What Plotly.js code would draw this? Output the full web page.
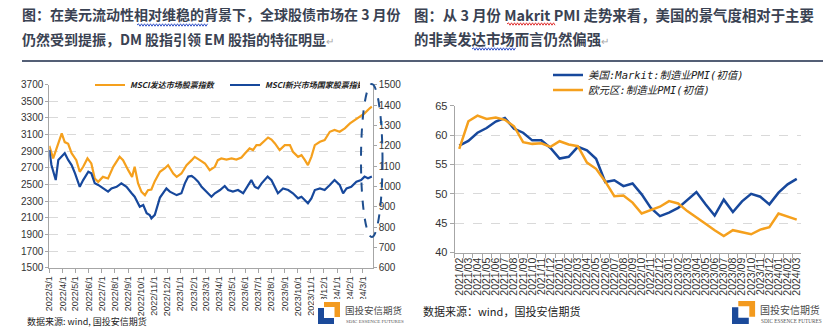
<!DOCTYPE html>
<html>
<head>
<meta charset="utf-8">
<script src="https://cdn.plot.ly/plotly-3.0.1.min.js"></script>
<style>
html,body{margin:0;padding:0;background:#fff;}
#chart{width:823px;height:330px;}
</style>
</head>
<body>
<div id="chart"></div>
<script>
// ---------------- DATA ----------------
// Left chart: MSCI developed markets (left axis) and MSCI emerging markets (right axis)
var dmDates = ["2022-03-01","2022-03-10","2022-03-30","2022-04-06","2022-04-14","2022-04-22","2022-05-03","2022-05-11","2022-05-19","2022-05-29","2022-06-07","2022-06-15","2022-06-23","2022-07-04","2022-07-16","2022-07-28","2022-08-12","2022-08-20","2022-09-01","2022-09-10","2022-09-16","2022-09-24","2022-10-02","2022-10-10","2022-10-17","2022-10-25","2022-11-02","2022-11-14","2022-11-25","2022-12-03","2022-12-15","2022-12-23","2023-01-03","2023-01-15","2023-01-27","2023-02-03","2023-02-15","2023-02-27","2023-03-10","2023-03-22","2023-03-29","2023-04-06","2023-04-18","2023-04-30","2023-05-11","2023-05-23","2023-05-31","2023-06-11","2023-06-19","2023-06-27","2023-07-05","2023-07-16","2023-07-24","2023-08-01","2023-08-09","2023-08-20","2023-09-01","2023-09-13","2023-09-20","2023-10-02","2023-10-10","2023-10-18","2023-10-25","2023-11-02","2023-11-10","2023-11-22","2023-12-03","2023-12-15","2023-12-26","2024-01-07","2024-01-19","2024-01-31","2024-02-11","2024-02-23","2024-03-05","2024-03-17","2024-03-22"];
var dmValues = [2965,2814,3115,3010,2990,2877,2793,2653,2713,2814,2754,2573,2532,2592,2573,2713,2833,2793,2673,2592,2713,2513,2412,2372,2432,2440,2540,2653,2693,2733,2633,2592,2633,2733,2793,2833,2793,2753,2673,2713,2793,2813,2800,2813,2800,2825,2873,2934,2914,2974,2974,3034,3065,3040,2994,2914,2974,2974,2894,2833,2853,2793,2733,2833,2974,3014,3034,3134,3155,3134,3175,3235,3275,3315,3356,3416,3435];

var emDates = ["2022-03-01","2022-03-06","2022-03-16","2022-03-22","2022-04-02","2022-04-06","2022-04-14","2022-04-22","2022-04-30","2022-05-11","2022-05-19","2022-05-31","2022-06-07","2022-06-15","2022-06-23","2022-07-04","2022-07-16","2022-07-24","2022-08-05","2022-08-16","2022-08-28","2022-09-09","2022-09-16","2022-09-28","2022-10-06","2022-10-14","2022-10-21","2022-10-25","2022-11-02","2022-11-14","2022-11-21","2022-11-29","2022-12-07","2022-12-15","2022-12-23","2023-01-03","2023-01-11","2023-01-19","2023-01-27","2023-02-03","2023-02-11","2023-02-19","2023-02-27","2023-03-06","2023-03-14","2023-03-22","2023-04-03","2023-04-14","2023-04-22","2023-05-03","2023-05-15","2023-05-27","2023-06-07","2023-06-15","2023-06-23","2023-07-01","2023-07-09","2023-07-16","2023-07-23","2023-08-01","2023-08-08","2023-08-16","2023-08-28","2023-09-09","2023-09-20","2023-10-02","2023-10-10","2023-10-22","2023-10-25","2023-11-02","2023-11-10","2023-11-22","2023-12-03","2023-12-15","2023-12-26","2024-01-07","2024-01-15","2024-01-23","2024-02-03","2024-02-15","2024-02-26","2024-03-05","2024-03-13","2024-03-22"];
var emValues = [1179,1105,1031,1130,1154,1163,1130,1105,1064,998,1031,1072,1064,1015,1007,990,974,990,998,1015,998,966,949,900,908,868,859,843,860,945,966,990,974,966,957,966,1015,1048,1051,1040,1023,998,982,966,949,966,982,1002,982,974,982,966,1007,1031,998,990,1015,1031,1048,1030,1000,966,990,982,966,941,949,925,917,941,982,990,982,1007,1031,1007,966,990,998,1023,1031,1048,1040,1048];

var leftTickDates = ["2022-03-01","2022-04-01","2022-05-01","2022-06-01","2022-07-01","2022-08-01","2022-09-01","2022-10-01","2022-11-01","2022-12-01","2023-01-01","2023-02-01","2023-03-01","2023-04-01","2023-05-01","2023-06-01","2023-07-01","2023-08-01","2023-09-01","2023-10-01","2023-11-01","2023-12-01","2024-01-01","2024-02-01","2024-03-01"];
var leftTickText = ["2022/3/1","2022/4/1","2022/5/1","2022/6/1","2022/7/1","2022/8/1","2022/9/1","2022/10/1","2022/11/1","2022/12/1","2023/1/1","2023/2/1","2023/3/1","2023/4/1","2023/5/1","2023/6/1","2023/7/1","2023/8/1","2023/9/1","2023/10/1","2023/11/1","2023/12/1","2024/1/1","2024/2/1","2024/3/1"];

// Right chart: flash manufacturing PMI
var pmiMonths = ["2021/02","2021/03","2021/04","2021/05","2021/06","2021/07","2021/08","2021/09","2021/10","2021/11","2021/12","2022/01","2022/02","2022/03","2022/04","2022/05","2022/06","2022/07","2022/08","2022/09","2022/10","2022/11","2022/12","2023/01","2023/02","2023/03","2023/04","2023/05","2023/06","2023/07","2023/08","2023/09","2023/10","2023/11","2023/12","2024/01","2024/02","2024/03"];
var usPmi = [58.2,59.0,60.4,61.2,62.3,62.9,61.1,60.4,59.1,59.1,57.8,56.0,56.3,58.0,57.4,55.95,52.0,52.3,51.3,51.75,49.9,47.6,46.2,46.8,47.6,49.0,50.3,48.2,46.3,49.0,46.9,48.7,50.0,49.5,48.2,50.2,51.6,52.55];
var euPmi = [57.65,62.35,63.3,62.75,63.0,62.6,61.5,58.8,58.5,58.6,58.0,58.95,58.4,58.1,55.3,54.25,52.1,49.6,49.7,48.5,46.65,47.2,47.8,48.75,48.35,47.05,45.9,44.9,43.8,42.8,43.8,43.5,43.1,43.9,44.3,46.65,46.1,45.6];

// ---------------- STYLE / LAYOUT ----------------
var W = 823, H = 330;
function px(x){ return x / W; }
function py(y){ return 1 - y / H; }

var ORANGE = "#f5a01d", BLUE = "#17489c";
var NARROW = "Liberation Sans Narrow, Arial Narrow, Liberation Sans, Arial, sans-serif";
var SANS = "Liberation Sans, Arial, sans-serif";
var CJK = "Noto Sans CJK SC, sans-serif";

var traces = [
  {x: dmDates, y: dmValues, type: "scatter", mode: "lines", name: "MSCI发达市场股票指数",
   xaxis: "x", yaxis: "y", line: {color: ORANGE, width: 2.2}, legend: "legend"},
  {x: emDates, y: emValues, type: "scatter", mode: "lines", name: "MSCI新兴市场国家股票指数",
   xaxis: "x", yaxis: "y2", line: {color: BLUE, width: 2.2}, legend: "legend"},
  {x: pmiMonths, y: usPmi, type: "scatter", mode: "lines", name: "美国:Markit:制造业PMI(初值)",
   xaxis: "x2", yaxis: "y3", line: {color: BLUE, width: 2.5}, legend: "legend2"},
  {x: pmiMonths, y: euPmi, type: "scatter", mode: "lines", name: "欧元区:制造业PMI(初值)",
   xaxis: "x2", yaxis: "y3", line: {color: ORANGE, width: 2.5}, legend: "legend3"}
];

function zigzag(x0, x1, y, color){
  var d = "M" + px(x0) + "," + py(y);
  var up = true;
  for (var x = x0 + 1.5; x <= x1; x += 1.5){
    d += " L" + px(x) + "," + py(y + (up ? -1.2 : 1.2));
    up = !up;
  }
  return {type: "path", xref: "paper", yref: "paper", path: d, line: {color: color, width: 1}, layer: "above"};
}

var shapes = [
  // rule under the headings
  {type: "line", xref: "paper", yref: "paper", x0: px(22), x1: px(823), y0: py(61), y1: py(61),
   line: {color: "#1b2a48", width: 1.5}},
  // dashed ellipse highlighting the latest period
  {type: "circle", xref: "paper", yref: "paper", x0: px(361), x1: px(382.5), y0: py(84), y1: py(237),
   line: {color: "#1f4f8f", width: 2, dash: "dash"}, layer: "above"},
  zigzag(137, 208, 25, "#3050c8"),
  zigzag(507, 555, 24, "#e03030"),
  zigzag(472, 516, 49, "#3050c8")
];

var annotations = [];
function ann(text, x, y, size, color, extra){
  var a = {text: text, xref: "paper", yref: "paper", x: px(x), y: py(y), xanchor: "left", yanchor: "middle",
    showarrow: false, font: {family: CJK, size: size, color: color}};
  if (extra) for (var k in extra) { if (k === "font") { for (var f in extra.font) a.font[f] = extra.font[f]; } else a[k] = extra[k]; }
  return a;
}
var RET = '<span style="color:#a8a8a8;font-size:10px;font-weight:normal">↵</span>';
var HEAD = "#3a4252";
annotations.push(ann("图：在美元流动性相对维稳的背景下，全球股债市场在 3 月份", 20, 14, 14, HEAD, {font: {weight: 700}}));
annotations.push(ann("仍然受到提振，DM 股指引领 EM 股指的特征明显" + RET, 20, 39, 14, HEAD, {font: {weight: 700}}));
annotations.push(ann("图：从 3 月份 Makrit PMI 走势来看，美国的景气度相对于主要", 412, 14, 14.4, HEAD, {font: {weight: 700}}));
annotations.push(ann("的非美发达市场而言仍然偏强" + RET, 412, 39, 14.4, HEAD, {font: {weight: 700}}));
annotations.push(ann("数据来源: wind, 国投安信期货", 25, 321, 9, "#222"));
annotations.push(ann("数据来源：wind，国投安信期货", 421, 311, 11, "#222"));

// Logos (white background box, icon, name)
function logo(x0, y0, w, scale){
  shapes.push({type: "rect", xref: "paper", yref: "paper", x0: px(x0 - 4), x1: px(x0 + w), y0: py(y0 - 3), y1: py(330),
    fillcolor: "#ffffff", line: {width: 0}, layer: "above"});
  var s = scale;
  var o = "M" + px(x0 + 6*s) + "," + py(y0) + " L" + px(x0 + 22*s) + "," + py(y0) + " L" + px(x0 + 22*s) + "," + py(y0 + 15*s) +
          " L" + px(x0 + 16.5*s) + "," + py(y0 + 15*s) + " L" + px(x0 + 16.5*s) + "," + py(y0 + 5*s) + " L" + px(x0 + 6*s) + "," + py(y0 + 5*s) + " Z";
  var b = "M" + px(x0) + "," + py(y0 + 6*s) + " L" + px(x0 + 6*s) + "," + py(y0 + 6*s) + " L" + px(x0 + 6*s) + "," + py(y0 + 16*s) +
          " L" + px(x0 + 16*s) + "," + py(y0 + 16*s) + " L" + px(x0 + 16*s) + "," + py(y0 + 22*s) + " L" + px(x0) + "," + py(y0 + 22*s) + " Z";
  shapes.push({type: "path", xref: "paper", yref: "paper", path: o, fillcolor: "#f39a1e", line: {width: 0}, layer: "above"});
  shapes.push({type: "path", xref: "paper", yref: "paper", path: b, fillcolor: "#1b4a9a", line: {width: 0}, layer: "above"});
  annotations.push(ann("国投安信期货", x0 + 25*s, y0 + 8*s, 9.5*s, "#4a4a4a"));
  annotations.push(ann("SDIC ESSENCE FUTURES", x0 + 26*s, y0 + 19*s, 5*s, "#555", {font: {family: "Liberation Serif, serif"}}));
}
logo(318, 302, 95, 1);
logo(732, 301, 95, 1.05);

var rightLegendFont = {family: "DejaVu Sans Mono, Noto Sans CJK SC, monospace", size: 10.5, color: "#222", style: "italic"};

var layout = {
  width: W, height: H,
  margin: {l: 0, r: 0, t: 0, b: 0, pad: 0},
  paper_bgcolor: "#ffffff", plot_bgcolor: "rgba(0,0,0,0)",
  showlegend: true,
  xaxis: {
    domain: [px(49.3), px(372.7)], anchor: "y", type: "date",
    range: ["2022-03-01", "2024-03-24"],
    tickmode: "array", tickvals: leftTickDates, ticktext: leftTickText,
    tickangle: -90, tickfont: {family: SANS, size: 9, color: "#333"},
    ticks: "outside", ticklen: 4, tickcolor: "#a6a6a6",
    showline: true, linecolor: "#a6a6a6", linewidth: 1, showgrid: false, zeroline: false
  },
  yaxis: {
    domain: [py(267.7), py(84.7)], anchor: "x", range: [1500, 3700], dtick: 200, tick0: 1500,
    tickfont: {family: NARROW, size: 10, color: "#333"},
    ticks: "outside", ticklen: 3, tickcolor: "#a6a6a6",
    showline: true, linecolor: "#a6a6a6", linewidth: 1,
    showgrid: true, gridcolor: "#d9d9d9", griddash: "dash", gridwidth: 1, zeroline: false
  },
  yaxis2: {
    overlaying: "y", side: "right", anchor: "x", range: [600, 1500], dtick: 100, tick0: 600,
    tickfont: {family: NARROW, size: 10, color: "#333"},
    ticks: "outside", ticklen: 3, tickcolor: "#a6a6a6",
    showline: true, linecolor: "#a6a6a6", linewidth: 1, showgrid: false, zeroline: false
  },
  xaxis2: {
    domain: [px(454.7), px(801.3)], anchor: "y3", type: "category", range: [-0.5, 37.5],
    tickangle: -90, tickfont: {family: SANS, size: 10.5, color: "#333"},
    tickson: "boundaries", ticks: "outside", ticklen: 4, tickcolor: "#a6a6a6", dtick: 1,
    showline: true, linecolor: "#a6a6a6", linewidth: 1, showgrid: false, zeroline: false
  },
  yaxis3: {
    domain: [py(252.5), py(105.7)], anchor: "x2", range: [40, 65], dtick: 5, tick0: 40,
    tickfont: {family: SANS, size: 11, color: "#333"},
    ticks: "outside", ticklen: 4, tickcolor: "#a6a6a6",
    showline: true, linecolor: "#a6a6a6", linewidth: 1,
    showgrid: true, gridcolor: "#d9d9d9", griddash: "dash", gridwidth: 1, zeroline: false
  },
  legend: {
    orientation: "h", x: px(90), xanchor: "left", y: py(85), yanchor: "middle",
    bgcolor: "rgba(0,0,0,0)", borderwidth: 0, itemwidth: 30, entrywidth: 90, entrywidthmode: "pixels",
    font: {family: CJK, size: 8, color: "#222", weight: 700, style: "italic"}
  },
  legend2: {
    orientation: "v", x: px(548), xanchor: "left", y: py(75), yanchor: "middle",
    bgcolor: "rgba(0,0,0,0)", borderwidth: 0, itemwidth: 30, font: rightLegendFont
  },
  legend3: {
    orientation: "v", x: px(548), xanchor: "left", y: py(90), yanchor: "middle",
    bgcolor: "rgba(0,0,0,0)", borderwidth: 0, itemwidth: 30, font: rightLegendFont
  },
  shapes: shapes,
  annotations: annotations
};

Plotly.newPlot("chart", traces, layout, {displayModeBar: false, staticPlot: true});
</script>
</body>
</html>
